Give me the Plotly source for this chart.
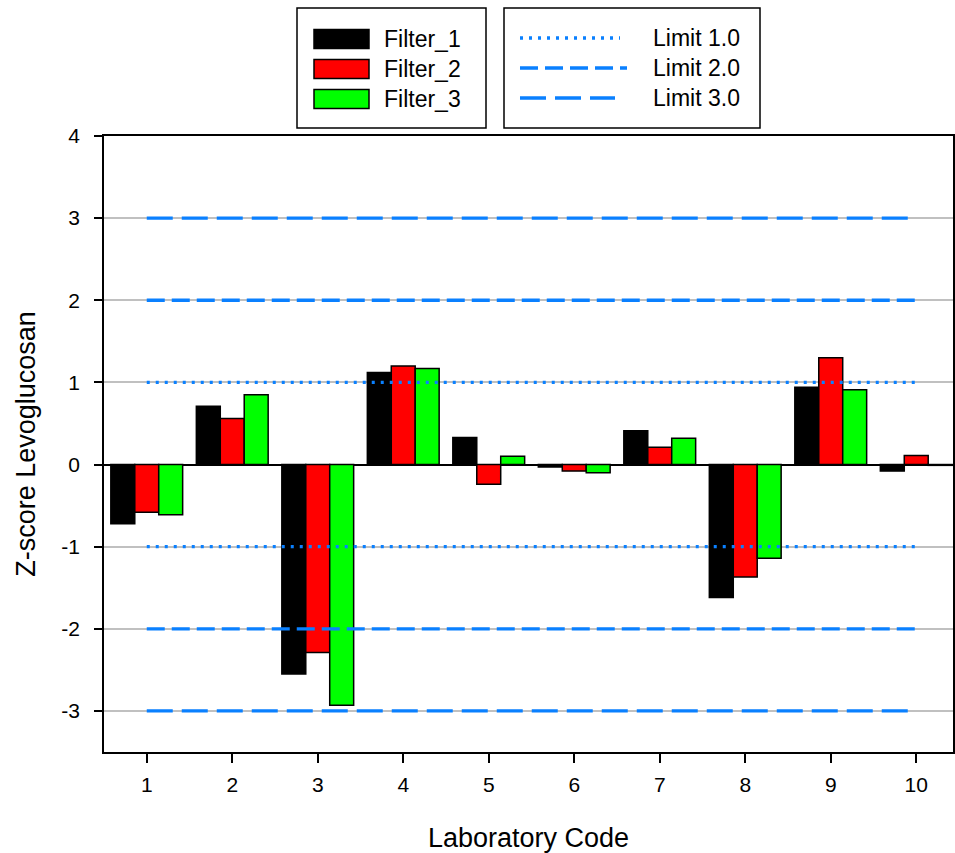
import plotly.graph_objects as go

labs = [1, 2, 3, 4, 5, 6, 7, 8, 9, 10]
filter_1 = [-0.72, 0.71, -2.55, 1.12, 0.33, -0.03, 0.41, -1.62, 0.94, -0.08]
filter_2 = [-0.58, 0.56, -2.29, 1.20, -0.24, -0.08, 0.21, -1.37, 1.30, 0.11]
filter_3 = [-0.61, 0.85, -2.93, 1.17, 0.10, -0.10, 0.32, -1.14, 0.91, -0.01]
filter_names = ["Filter_1", "Filter_2", "Filter_3"]
limits = [1.0, 2.0, 3.0]
limit_names = ["Limit 1.0", "Limit 2.0", "Limit 3.0"]
y_ticks = [-3, -2, -1, 0, 1, 2, 3, 4]

FONT = "Arial, Liberation Sans, sans-serif"
BAR_COLORS = ["#000000", "#FF0000", "#00FF00"]
LINE_COLOR = "#0A80FF"
DASHES = ["3px,6px", "18px,7px", "26px,9px"]

# plot area in pixels (for placing the boxed legends)
L, R, T, B = 104, 953, 136, 752
def px(x):
    return (x - L) / (R - L)
def py(y):
    return (B - y) / (B - T)

fig = go.Figure()

for name, vals, col in zip(filter_names, [filter_1, filter_2, filter_3], BAR_COLORS):
    fig.add_trace(go.Bar(x=labs, y=vals, name=name, marker_color=col,
                         marker_line=dict(color="#000000", width=1.5)))

for lim, nm, d in zip(limits, limit_names, DASHES):
    fig.add_trace(go.Scatter(x=[labs[0], labs[-1], None, labs[0], labs[-1]],
                             y=[lim, lim, None, -lim, -lim], mode="lines",
                             name=nm, line=dict(color=LINE_COLOR, width=3.3, dash=d),
                             connectgaps=False))

shapes = []
annotations = []
# legend box 1 (bars)
shapes.append(dict(type="rect", xref="paper", yref="paper",
                   x0=px(297), x1=px(486), y0=py(128), y1=py(8),
                   line=dict(color="black", width=1.5), fillcolor="white", layer="above"))
for i, (nm, col) in enumerate(zip(filter_names, BAR_COLORS)):
    yc = 39 + 30 * i
    shapes.append(dict(type="rect", xref="paper", yref="paper",
                       x0=px(314), x1=px(369), y0=py(yc + 9.5), y1=py(yc - 9.5),
                       line=dict(color="black", width=1.5), fillcolor=col, layer="above"))
    annotations.append(dict(xref="paper", yref="paper", x=px(382), y=py(yc),
                            text=nm, showarrow=False, xanchor="left", yanchor="middle",
                            font=dict(size=23, family=FONT, color="black")))
# legend box 2 (limit lines)
shapes.append(dict(type="rect", xref="paper", yref="paper",
                   x0=px(504), x1=px(760), y0=py(128), y1=py(8),
                   line=dict(color="black", width=1.5), fillcolor="white", layer="above"))
line_ends = [620, 627, 615]
for i, (nm, d, xe) in enumerate(zip(limit_names, DASHES, line_ends)):
    yc = 38 + 30 * i
    shapes.append(dict(type="line", xref="paper", yref="paper",
                       x0=px(520), x1=px(xe), y0=py(yc), y1=py(yc),
                       line=dict(color=LINE_COLOR, width=3.3, dash=d), layer="above"))
    annotations.append(dict(xref="paper", yref="paper", x=px(651), y=py(yc),
                            text=nm, showarrow=False, xanchor="left", yanchor="middle",
                            font=dict(size=23, family=FONT, color="black")))

fig.update_layout(
    width=955, height=853,
    margin=dict(l=L, r=955 - R, t=T, b=853 - B, autoexpand=False),
    paper_bgcolor="white", plot_bgcolor="white",
    font=dict(family=FONT, size=21, color="black"),
    barmode="group", bargap=0.16, bargroupgap=0,
    showlegend=False,
    shapes=shapes, annotations=annotations,
)
fig.update_xaxes(range=[0.5, 10.43], tickvals=labs, ticktext=[str(v) for v in labs],
                 showline=True, linecolor="black", linewidth=1.5, mirror=True,
                 ticks="outside", ticklen=9, tickcolor="black", tickwidth=1.5,
                 showgrid=False, zeroline=False, automargin=False,
                 ticklabelstandoff=4,
                 title=dict(text="Laboratory Code", font=dict(size=27, family=FONT), standoff=33),
                 tickfont=dict(size=21, family=FONT))
fig.update_yaxes(range=[-3.5, 4], tickvals=y_ticks, ticktext=[str(v) for v in y_ticks],
                 showline=True, linecolor="black", linewidth=1.5, mirror=True,
                 ticks="outside", ticklen=8, tickcolor="black", tickwidth=1.5,
                 showgrid=True, gridcolor="#C0C0C0", gridwidth=1.5,
                 zeroline=True, zerolinecolor="black", zerolinewidth=1.5,
                 automargin=False, ticklabelstandoff=10,
                 title=dict(text="Z-score Levoglucosan", font=dict(size=27, family=FONT), standoff=18),
                 tickfont=dict(size=21, family=FONT))

fig.write_html("out.html", config={"displayModeBar": False},
               post_script="document.body.style.margin='0';")
